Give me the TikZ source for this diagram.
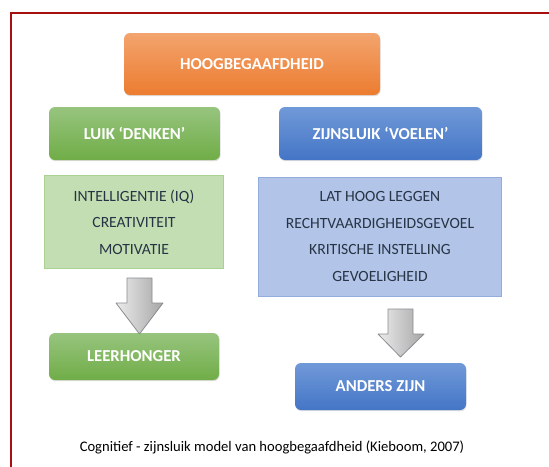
\documentclass[tikz,border=0pt]{standalone}
\usepackage{fontspec}
\setmainfont{Carlito}
\usetikzlibrary{shadows}
\definecolor{frame}{HTML}{A50F0F}
\definecolor{orT}{HTML}{F3A46E}
\definecolor{orB}{HTML}{EC7C30}
\definecolor{grT}{HTML}{97C47E}
\definecolor{grB}{HTML}{70AD47}
\definecolor{blT}{HTML}{7099D8}
\definecolor{blB}{HTML}{4475C6}
\definecolor{lgF}{HTML}{C3DEB2}
\definecolor{lgD}{HTML}{AAD192}
\definecolor{lbF}{HTML}{B2C5E8}
\definecolor{lbD}{HTML}{93ACDD}
\definecolor{ink}{HTML}{263445}
\definecolor{arD}{HTML}{8A8D92}
\tikzset{
  head/.style={rounded corners=6pt, text=white, font=\fontsize{16.7}{19}\selectfont\bfseries,
    drop shadow={opacity=0.25, shadow xshift=0.6pt, shadow yshift=-1.2pt}},
  orbox/.style={head, top color=orT, bottom color=orB},
  grbox/.style={head, top color=grT, bottom color=grB},
  blbox/.style={head, top color=blT, bottom color=blB},
  listbox/.style={text=ink, align=center, font=\fontsize{15.6}{26.5}\selectfont, line width=1pt},
  blockarrow/.style={draw=arD, line width=0.8pt, line join=round, left color=white!85!gray, right color=gray!70!white}
}
\begin{document}
\begin{tikzpicture}[x=1pt,y=-1pt]
\useasboundingbox (0,0) rectangle (549,466);
\fill[white] (0,0) rectangle (549,466);
\clip (0,0) rectangle (549,466);
\draw[frame, line width=2pt] (11,480) -- (11,13) -- (560,13);

\node[orbox, minimum width=256pt, minimum height=62pt] (hb) at (252,64) {HOOGBEGAAFDHEID};
\node[grbox, minimum width=171pt, minimum height=53pt] (denken) at (134.5,133.5) {LUIK ‘DENKEN’};
\node[blbox, minimum width=203pt, minimum height=53pt] (voelen) at (380.5,133.5) {ZIJNSLUIK ‘VOELEN’};
\node[listbox, fill=lgF, draw=lgD, minimum width=179pt, minimum height=93pt] (lg) at (134,222)
  {INTELLIGENTIE (IQ)\\ CREATIVITEIT\\ MOTIVATIE};
\node[listbox, fill=lbF, draw=lbD, minimum width=243pt, minimum height=119pt] (lb) at (380,236.5)
  {LAT HOOG LEGGEN\\ RECHTVAARDIGHEIDSGEVOEL\\ KRITISCHE INSTELLING\\ GEVOELIGHEID};
\node[grbox, minimum width=170pt, minimum height=47pt] (leer) at (134,356.5) {LEERHONGER};
\node[blbox, minimum width=171pt, minimum height=47pt] (anders) at (380.5,386.5) {ANDERS ZIJN};

\draw[blockarrow] (127,278) -- (152,278) -- (152,303) -- (163,303) -- (139.5,334) -- (116,303) -- (127,303) -- cycle;
\draw[blockarrow] (388,309) -- (413,309) -- (413,334) -- (424,334) -- (400.5,357) -- (378,334) -- (388,334) -- cycle;

\node[font=\fontsize{14.6}{16}\selectfont, text=black] (cap) at (272,447) {Cognitief - zijnsluik model van hoogbegaafdheid (Kieboom, 2007)};
\end{tikzpicture}
\end{document}
